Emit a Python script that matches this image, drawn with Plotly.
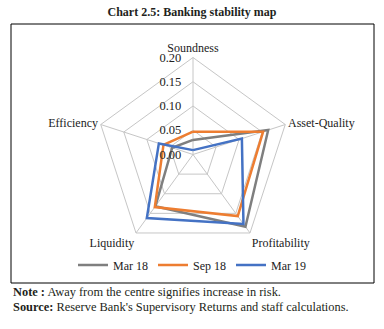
import plotly.graph_objects as go

categories = ["Soundness", "Asset-Quality", "Profitability", "Liquidity", "Efficiency"]
mar18 = [0.030, 0.163, 0.184, 0.132, 0.045]
sep18 = [0.047, 0.152, 0.157, 0.134, 0.064]
mar19 = [0.009, 0.106, 0.177, 0.162, 0.074]
series_names = ["Mar 18", "Sep 18", "Mar 19"]
series_colors = ["#7f7f7f", "#ED7D31", "#4472C4"]
radial_ticks = [0.00, 0.05, 0.10, 0.15, 0.20]
radial_ticktext = ["0.00", "0.05", "0.10", "0.15", "0.20"]

W, H = 384, 329
FONT = "Liberation Serif"

fig = go.Figure()
for name, vals, col in zip(series_names, [mar18, sep18, mar19], series_colors):
    fig.add_trace(go.Scatterpolar(
        r=vals + vals[:1], theta=categories + categories[:1],
        mode="lines", name=name, line=dict(color=col, width=2.5)))

cx, cy, rad = 193, 154.5, 97
fig.update_layout(
    width=W, height=H,
    margin=dict(l=0, r=0, t=0, b=0),
    paper_bgcolor="white", plot_bgcolor="white",
    font=dict(family=FONT, size=12, color="#333333"),
    polar=dict(
        domain=dict(x=[(cx - rad) / W, (cx + rad) / W],
                    y=[(H - cy - rad) / H, (H - cy + rad) / H]),
        gridshape="linear",
        bgcolor="white",
        radialaxis=dict(range=[0, 0.2], tickvals=radial_ticks,
                        ticktext=[t + "\u00a0\u00a0\u00a0" for t in radial_ticktext],
                        angle=90, side="counterclockwise", showline=False,
                        gridcolor="#c6c6c6", gridwidth=1, ticks="",
                        tickfont=dict(family=FONT, size=12.5, color="#222222"), tickangle=90),
        angularaxis=dict(rotation=90, direction="clockwise", gridcolor="#c6c6c6",
                         linecolor="#c6c6c6", linewidth=1, ticks="",
                         tickfont=dict(family=FONT, size=12, color="#222222")),
    ),
    showlegend=True,
    legend=dict(orientation="h", x=0.5, xanchor="center", y=(H - 265) / H, yanchor="middle",
                font=dict(family=FONT, size=12, color="#222222"), bgcolor="rgba(0,0,0,0)"),
    title=dict(text="<b>Chart 2.5: Banking stability map</b>", x=0.5, xanchor="center",
               y=(H - 12) / H, yanchor="middle",
               font=dict(family=FONT, size=12, color="#231f20")),
)

fig.add_shape(type="rect", xref="paper", yref="paper",
              x0=11 / W, x1=374 / W, y0=(H - 283) / H, y1=(H - 24) / H,
              line=dict(color="black", width=1))

fig.add_annotation(text="<b>Note :</b> Away from the centre signifies increase in risk.",
                   xref="paper", yref="paper", x=11 / W, y=(H - 292) / H,
                   xanchor="left", yanchor="middle", showarrow=False,
                   font=dict(family=FONT, size=12.4, color="#231f20"))
fig.add_annotation(text="<b>Source:</b> Reserve Bank's Supervisory Returns and staff calculations.",
                   xref="paper", yref="paper", x=11 / W, y=(H - 307) / H,
                   xanchor="left", yanchor="middle", showarrow=False,
                   font=dict(family=FONT, size=12.4, color="#231f20"))

fig.write_html("out.html")
